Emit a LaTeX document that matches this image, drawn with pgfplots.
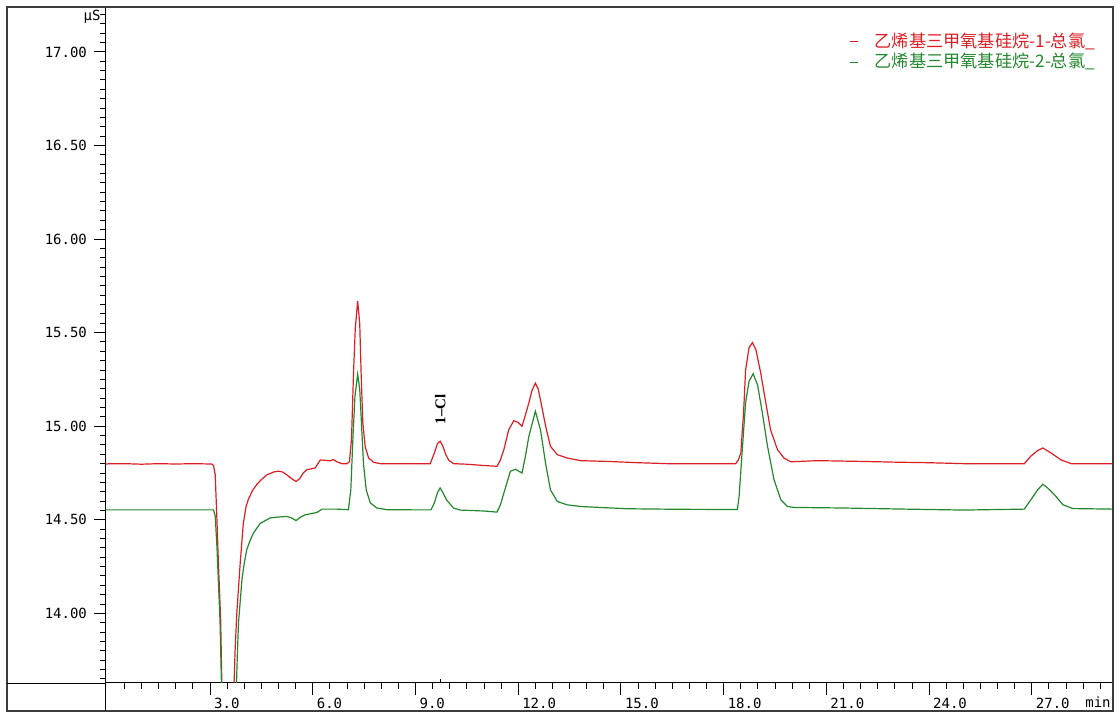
\documentclass[border=0pt]{standalone}
\usepackage{fontspec}
\usepackage{pgfplots}
\pgfplotsset{compat=1.18}
\newfontfamily\cjk{Noto Sans CJK SC}
\newfontfamily\mono{DejaVu Sans Mono}
\newfontfamily\serifb{Liberation Serif}
\definecolor{cred}{RGB}{220,30,35}
\definecolor{cgreen}{RGB}{35,135,45}
\definecolor{framec}{RGB}{60,60,60}

\begin{document}
\begin{tikzpicture}[x=1pt,y=1pt]
\useasboundingbox (-53,-15) rectangle (507,341.5);
\begin{axis}[at={(0,0)}, anchor=south west, scale only axis,
  width=503.5pt, height=338pt,
  xmin=-0.04, xmax=29.37, ymin=13.628, ymax=17.24,
  axis line style={black, line width=0.5pt},
  tick pos=left, tick align=outside,
  major tick length=6pt, minor tick length=3pt,
  tick style={black, line width=0.5pt},
  xtick={3,6,...,27},
  xticklabels={3.0,6.0,9.0,12.0,15.0,18.0,21.0,24.0,27.0},
  minor xtick={0.5,1,...,29},
  ytick={14,14.5,...,17},
  yticklabels={14.00,14.50,15.00,15.50,16.00,16.50,17.00},
  minor ytick={13.65,13.70,...,17.2},
  ticklabel style={font=\mono\fontsize{7}{8}\selectfont},
  xticklabel style={anchor=north west, xshift=-1.5pt, yshift=2pt},
  extra x ticks={9.72}, extra x tick labels={},
  extra x tick style={tick align=inside, major tick length=2pt},
  legend style={at={(rel axis cs:0.9865,0.968)}, anchor=north east, draw=none, fill=none,
    font=\cjk\fontsize{8.6}{9}\selectfont, row sep=-2.6pt, inner sep=0pt, cells={anchor=west}},
  legend image code/.code={\draw[#1, line width=0.6pt] (0pt,0pt) -- (4pt,0pt);},
  clip mode=individual,
]
\addplot[cred, line width=0.6pt] coordinates {
(-0.04,14.798) (0.1,14.80) (0.5,14.80) (1.0,14.797) (1.5,14.80) (2.0,14.798) (2.5,14.80) (3.05,14.798)
(3.10,14.79) (3.15,14.74) (3.20,14.50) (3.24,14.285) (3.31,13.96) (3.36,13.45) (3.42,12.9) (3.52,12.6)
(3.62,12.9) (3.68,13.5) (3.73,13.8) (3.78,14.0) (3.88,14.27) (3.97,14.48) (4.05,14.57) (4.12,14.61)
(4.25,14.66) (4.37,14.69) (4.50,14.715) (4.66,14.74) (4.85,14.755) (5.00,14.76) (5.12,14.755)
(5.24,14.74) (5.38,14.72) (5.51,14.705) (5.62,14.72) (5.72,14.75) (5.83,14.768) (5.95,14.772)
(6.07,14.777) (6.15,14.80) (6.22,14.82) (6.40,14.817) (6.51,14.815) (6.60,14.822) (6.70,14.81)
(6.85,14.80) (7.00,14.80) (7.07,14.81) (7.13,14.93) (7.19,15.29) (7.24,15.52) (7.31,15.67)
(7.37,15.55) (7.41,15.29) (7.46,15.02) (7.53,14.89) (7.63,14.83) (7.78,14.807) (7.97,14.80)
(8.5,14.80) (9.0,14.80) (9.43,14.80) (9.55,14.857) (9.64,14.907) (9.72,14.92) (9.80,14.893)
(9.88,14.85) (9.97,14.818) (10.11,14.80) (10.5,14.797) (11.0,14.79) (11.38,14.786) (11.48,14.82)
(11.58,14.875) (11.72,14.98) (11.87,15.03) (12.0,15.02) (12.11,15.00) (12.21,15.06) (12.31,15.125)
(12.40,15.19) (12.50,15.23) (12.58,15.20) (12.65,15.14) (12.80,15.00) (12.94,14.893) (13.14,14.848)
(13.43,14.83) (13.82,14.816) (14.60,14.812) (15.5,14.805) (16.35,14.80) (17.5,14.80) (18.35,14.80)
(18.43,14.82) (18.50,14.857) (18.58,15.07) (18.64,15.30) (18.74,15.42) (18.84,15.447) (18.94,15.41)
(19.08,15.286) (19.23,15.125) (19.37,14.98) (19.57,14.875) (19.76,14.83) (19.96,14.81) (20.74,14.816)
(22,14.812) (23,14.808) (24,14.805) (25,14.80) (26,14.80) (26.78,14.80) (26.97,14.84) (27.17,14.87)
(27.32,14.884) (27.56,14.857) (27.85,14.82) (28.15,14.80) (29.37,14.80)
};
\addlegendentry{\hspace{6pt}\textcolor{cred}{乙烯基三甲氧基硅烷-1-总氯\_}}
\addplot[cgreen, line width=0.6pt] coordinates {
(-0.04,14.553) (1.0,14.553) (2.0,14.553) (3.10,14.553) (3.15,14.52) (3.20,14.357) (3.29,13.96)
(3.36,13.4) (3.45,12.8) (3.58,12.5) (3.70,12.9) (3.75,13.5) (3.80,13.8) (3.83,13.95) (3.93,14.18)
(4.00,14.27) (4.07,14.34) (4.17,14.39) (4.27,14.43) (4.46,14.48) (4.75,14.51) (5.0,14.515)
(5.24,14.518) (5.38,14.51) (5.51,14.496) (5.65,14.515) (5.78,14.527) (6.12,14.539) (6.27,14.557)
(6.7,14.557) (7.04,14.554) (7.11,14.66) (7.17,14.93) (7.23,15.16) (7.31,15.277) (7.37,15.20)
(7.42,15.02) (7.48,14.80) (7.56,14.66) (7.68,14.59) (7.87,14.563) (8.17,14.554) (9.0,14.553)
(9.45,14.553) (9.55,14.59) (9.64,14.645) (9.72,14.67) (9.80,14.645) (9.91,14.605) (10.11,14.563)
(10.3,14.552) (11.0,14.547) (11.38,14.541) (11.48,14.58) (11.58,14.643) (11.77,14.759) (11.92,14.77)
(12.11,14.75) (12.21,14.84) (12.31,14.946) (12.50,15.08) (12.65,14.98) (12.80,14.80) (12.94,14.66)
(13.14,14.598) (13.43,14.58) (13.82,14.571) (15.18,14.559) (16.74,14.556) (18.40,14.555)
(18.45,14.625) (18.55,14.893) (18.64,15.125) (18.74,15.24) (18.86,15.28) (18.99,15.22) (19.13,15.07)
(19.28,14.893) (19.47,14.714) (19.67,14.607) (19.86,14.571) (20.06,14.566) (21.5,14.563)
(23,14.558) (24,14.555) (25,14.552) (26.78,14.557) (26.97,14.607) (27.17,14.66) (27.32,14.69)
(27.46,14.67) (27.66,14.634) (27.91,14.58) (28.20,14.56) (29.37,14.557)
};
\addlegendentry{\hspace{6pt}\textcolor{cgreen}{乙烯基三甲氧基硅烷-2-总氯\_}}
\node[rotate=90, font=\serifb\bfseries\fontsize{7.5}{8}\selectfont, inner sep=0pt] at (axis cs:9.72,15.09) {1–Cl};
\node[anchor=base east, inner sep=0pt, font=\mono\fontsize{7}{8}\selectfont] at ([xshift=-2.5pt,yshift=-7pt]rel axis cs:0,1) {μS};
\node[anchor=base east, inner sep=0pt, font=\mono\fontsize{7}{8}\selectfont] at ([xshift=-1pt,yshift=-12.3pt]rel axis cs:1,0) {min};
\end{axis}
\draw[framec, line width=1pt] (-49.5,-13.75) rectangle (503.5,338);
\draw[black, line width=0.5pt] (0,0) -- (0,-13.75);
\draw[black, line width=0.5pt] (-49.5,0) -- (0,0);
\end{tikzpicture}
\end{document}
